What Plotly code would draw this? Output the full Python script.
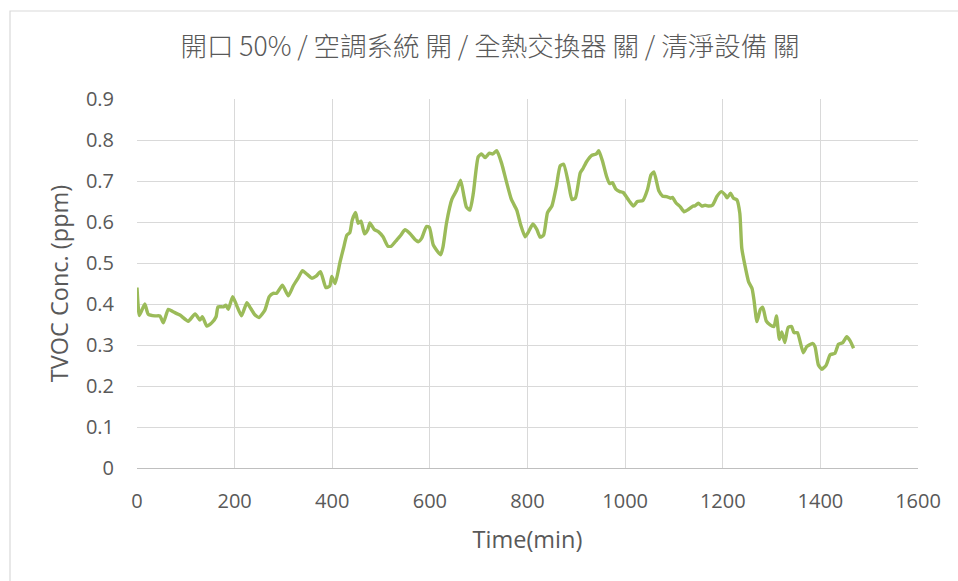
import plotly.graph_objects as go

time_min = [0, 5, 16, 23, 37, 47, 54, 64, 74, 88, 105, 119, 129, 134, 143, 153, 162, 166, 177, 182,
            187, 196, 204, 214, 225, 231, 242, 250, 262, 271, 279, 286, 298, 310, 320, 330, 339, 346,
            358, 367, 376, 387, 395, 399, 406, 416, 423, 430, 436, 441, 448, 453, 459, 466, 473, 477,
            486, 495, 504, 514, 521, 532, 540, 549, 559, 569, 576, 583, 593, 599, 607, 622, 627, 634,
            645, 655, 663, 670, 675, 682, 689, 699, 706, 713, 722, 729, 737, 747, 756, 767, 778, 786,
            795, 802, 811, 819, 826, 833, 841, 850, 859, 867, 874, 884, 891, 898, 908, 913, 921, 931,
            941, 946, 954, 962, 968, 974, 981, 989, 996, 1008, 1017, 1025, 1036, 1046, 1053, 1059,
            1069, 1077, 1085, 1093, 1097, 1104, 1113, 1121, 1130, 1139, 1143, 1150, 1157, 1164, 1170,
            1179, 1188, 1197, 1205, 1209, 1216, 1222, 1229, 1235, 1239, 1246, 1253, 1260, 1264, 1270,
            1277, 1282, 1289, 1297, 1305, 1310, 1316, 1321, 1327, 1334, 1341, 1346, 1353, 1365, 1372,
            1384, 1389, 1396, 1403, 1412, 1420, 1430, 1437, 1446, 1454, 1461, 1468]

tvoc_ppm = [0.44, 0.372, 0.40, 0.375, 0.371, 0.371, 0.354, 0.387, 0.381, 0.373, 0.358, 0.376, 0.361,
            0.369, 0.346, 0.354, 0.369, 0.393, 0.393, 0.397, 0.387, 0.418, 0.397, 0.371, 0.403, 0.393,
            0.373, 0.367, 0.385, 0.418, 0.426, 0.426, 0.446, 0.42, 0.444, 0.463, 0.481, 0.475, 0.463,
            0.468, 0.479, 0.44, 0.444, 0.467, 0.45, 0.503, 0.536, 0.568, 0.574, 0.605, 0.623, 0.597,
            0.602, 0.571, 0.582, 0.598, 0.582, 0.576, 0.564, 0.541, 0.541, 0.556, 0.567, 0.581, 0.572,
            0.558, 0.552, 0.56, 0.589, 0.587, 0.544, 0.52, 0.54, 0.597, 0.655, 0.678, 0.702, 0.662,
            0.636, 0.629, 0.67, 0.759, 0.766, 0.757, 0.768, 0.766, 0.774, 0.743, 0.702, 0.655, 0.629,
            0.593, 0.564, 0.576, 0.595, 0.582, 0.563, 0.568, 0.623, 0.639, 0.686, 0.737, 0.741, 0.694,
            0.655, 0.658, 0.72, 0.729, 0.747, 0.762, 0.766, 0.774, 0.747, 0.711, 0.694, 0.696, 0.68,
            0.674, 0.672, 0.652, 0.639, 0.65, 0.652, 0.68, 0.715, 0.722, 0.676, 0.663, 0.662, 0.658,
            0.66, 0.647, 0.637, 0.625, 0.631, 0.639, 0.639, 0.646, 0.639, 0.641, 0.639, 0.641, 0.662,
            0.674, 0.666, 0.659, 0.67, 0.658, 0.654, 0.621, 0.536, 0.491, 0.454, 0.438, 0.41, 0.357,
            0.387, 0.392, 0.359, 0.349, 0.345, 0.371, 0.314, 0.332, 0.306, 0.343, 0.345, 0.33, 0.33,
            0.281, 0.296, 0.304, 0.296, 0.251, 0.241, 0.251, 0.276, 0.28, 0.302, 0.306, 0.32, 0.31,
            0.292]

title_text = "開口 50% / 空調系統 開 / 全熱交換器 關 / 清淨設備 關"
x_title = "Time(min)"
y_title = "TVOC Conc. (ppm)"

TEXT = "#595959"
GRID = "#d9d9d9"

fig = go.Figure()
fig.add_trace(go.Scatter(
    x=time_min, y=tvoc_ppm, mode="lines",
    line=dict(color="#9BBB59", width=3.4, shape="spline", smoothing=0.5),
    hoverinfo="x+y", showlegend=False,
))

fig.update_layout(
    width=958, height=581,
    margin=dict(l=137, r=40, t=99, b=113, autoexpand=False),
    paper_bgcolor="white", plot_bgcolor="white",
    font=dict(family="Open Sans, Noto Sans CJK TC, sans-serif", color=TEXT),
    title=dict(text=title_text, x=490 / 958, xanchor="center", y=1 - 47 / 581, yanchor="middle",
               font=dict(family="Noto Sans CJK TC, sans-serif", size=26.5, color=TEXT, weight=300)),
    xaxis=dict(range=[0, 1600], dtick=200, tick0=0, showgrid=True, gridcolor=GRID, gridwidth=1.4,
               showline=True, linecolor="#bfbfbf", linewidth=1.4, zeroline=False, ticks="",
               tickfont=dict(size=20, color=TEXT), ticklabelstandoff=15,
               title=dict(text=x_title, font=dict(size=23.5, color=TEXT), standoff=18)),
    yaxis=dict(range=[0, 0.9], dtick=0.1, tick0=0, showgrid=True, gridcolor=GRID, gridwidth=1.4,
               showline=False, zeroline=False, ticks="", tickformat="~g",
               tickfont=dict(size=20, color=TEXT), ticklabelstandoff=22,
               title=dict(text=y_title, font=dict(size=23.5, color=TEXT), standoff=10)),
    shapes=[dict(type="rect", xref="paper", yref="paper",
                 x0=(10 - 137) / 781, x1=(965 - 137) / 781,
                 y0=(468 - 590) / 369, y1=(468 - 11) / 369,
                 line=dict(color=GRID, width=1.2), fillcolor="rgba(0,0,0,0)", layer="below")],
)

fig.write_html("out.html", config={"displayModeBar": False},
               post_script="document.body.style.margin='0';document.body.style.overflow='hidden';")
